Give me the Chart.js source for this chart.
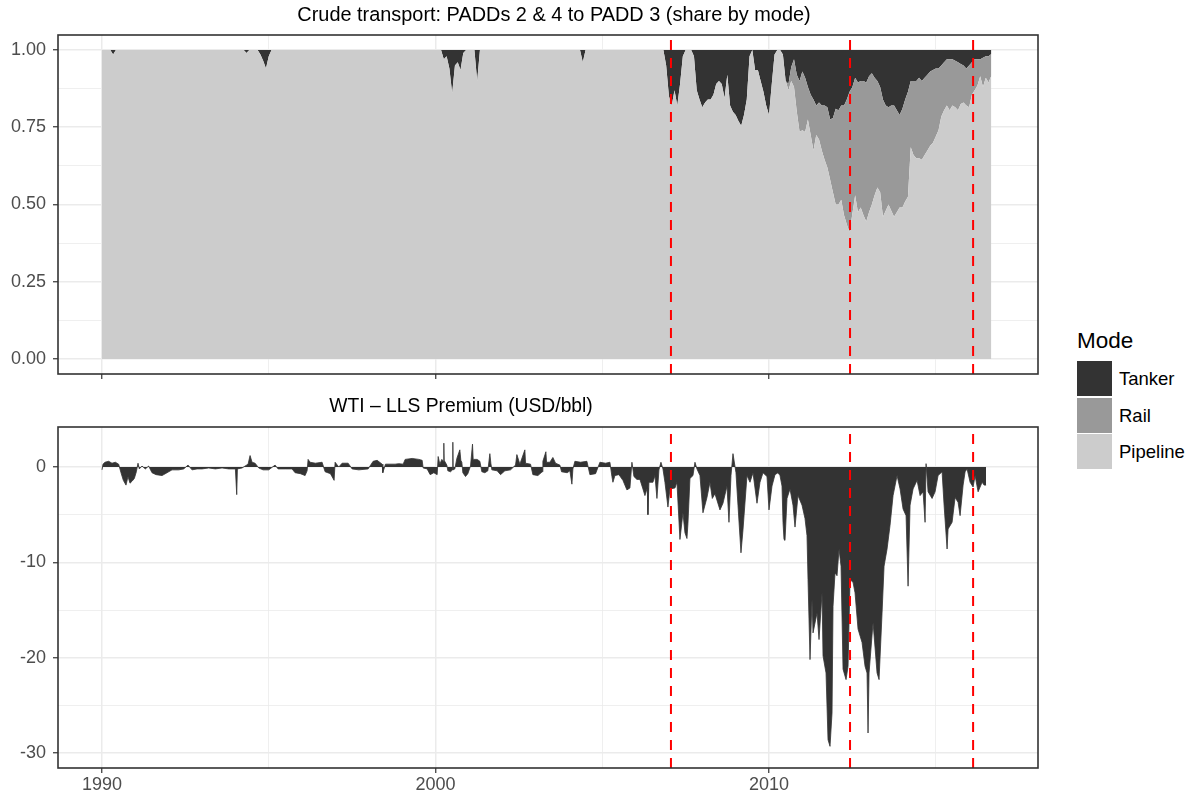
<!DOCTYPE html>
<html>
<head>
<meta charset="utf-8">
<script src="https://cdn.jsdelivr.net/npm/chart.js@4.4.1/dist/chart.umd.min.js"></script>
<style>
  html, body { margin: 0; padding: 0; background: #fff; }
  body { width: 1193px; height: 797px; position: relative; overflow: hidden; font-family: "Liberation Sans", Arial, sans-serif; }
  canvas { position: absolute; left: 0; }
  #shareChart { top: 0; }
  #premiumChart { top: 380px; }
  .legend-title { position: absolute; left: 1077px; top: 328px; font-size: 22.5px; line-height: 26px; color: #000; }
  .legend-key { position: absolute; left: 1077px; width: 35px; height: 35px; }
  .legend-label { position: absolute; left: 1119px; font-size: 18.5px; line-height: 22px; color: #000; }
</style>
</head>
<body>
<canvas id="shareChart" width="1050" height="380"></canvas>
<canvas id="premiumChart" width="1050" height="417"></canvas>
<div id="legend"></div>
<script>
const FONT = '"Liberation Sans", Arial, sans-serif'
const INK = '#333333'
const GRID = '#ebebeb'
const AXIS_TEXT = '#4d4d4d'

const modes = ['Tanker', 'Rail', 'Pipeline']
const modeColors = ['#333333', '#999999', '#cccccc']

const yearTicks = [1990, 2000, 2010]
const yearMinor = [1995, 2005, 2015]
const shareTicks = [0, 0.25, 0.5, 0.75, 1]
const shareMinor = [0.125, 0.375, 0.625, 0.875]
const premiumTicks = [-30, -20, -10, 0]
const premiumMinor = [-25, -15, -5]

// dates marked with the red dashed lines
const eventDates = [2007.06, 2012.43, 2016.12]

// monthly shares from Jan 1990, one row per year
const FIRST_YEAR = 1990
const tankerShare = [
  0, 0, 0, 0, 0.015, 0, 0, 0, 0, 0, 0, 0,
  0, 0, 0, 0, 0, 0, 0, 0, 0, 0, 0, 0,
  0, 0, 0, 0, 0, 0, 0, 0, 0, 0, 0, 0,
  0, 0, 0, 0, 0, 0, 0, 0, 0, 0, 0, 0,
  0, 0, 0, 0, 0.01, 0, 0, 0, 0, 0.015, 0.035, 0.06,
  0.02, 0, 0, 0, 0, 0, 0, 0, 0, 0, 0, 0,
  0, 0, 0, 0, 0, 0, 0, 0, 0, 0, 0, 0,
  0, 0, 0, 0, 0, 0, 0, 0, 0, 0, 0, 0,
  0, 0, 0, 0, 0, 0, 0, 0, 0, 0, 0, 0,
  0, 0, 0, 0, 0, 0, 0, 0, 0, 0, 0, 0,
  0, 0, 0, 0.03, 0.02, 0.06, 0.14, 0.05, 0.04, 0.065, 0.01, 0,
  0, 0, 0, 0.10, 0, 0, 0, 0, 0, 0, 0, 0,
  0, 0, 0, 0, 0, 0, 0, 0, 0, 0, 0, 0,
  0, 0, 0, 0, 0, 0, 0, 0, 0, 0, 0, 0,
  0, 0, 0, 0, 0, 0.04, 0, 0, 0, 0, 0, 0,
  0, 0, 0, 0, 0, 0, 0, 0, 0, 0, 0, 0,
  0, 0, 0, 0, 0, 0, 0, 0, 0, 0, 0, 0.05,
  0.15, 0.18, 0.13, 0.18, 0.11, 0.02, 0, 0, 0, 0.02, 0.13, 0.16,
  0.185, 0.17, 0.16, 0.16, 0.145, 0.11, 0.10, 0.11, 0.155, 0.08, 0.18, 0.20,
  0.21, 0.23, 0.245, 0.21, 0.16, 0.02, 0, 0.065, 0.065, 0.10, 0.135, 0.18,
  0.21, 0.11, 0.015, 0, 0, 0.015, 0.10, 0.11, 0.055, 0.03, 0.08, 0.10,
  0.07, 0.09, 0.12, 0.145, 0.16, 0.18, 0.17, 0.18, 0.18, 0.185, 0.225, 0.22,
  0.19, 0.195, 0.18, 0.18, 0.16, 0.135, 0.12, 0.09, 0.105, 0.10, 0.10, 0.105,
  0.085, 0.075, 0.09, 0.10, 0.12, 0.16, 0.18, 0.185, 0.18, 0.18, 0.195, 0.21,
  0.19, 0.16, 0.135, 0.10, 0.10, 0.10, 0.09, 0.10, 0.09, 0.08, 0.07, 0.065,
  0.06, 0.06, 0.05, 0.04, 0.03, 0.03, 0.03, 0.035, 0.04, 0.045, 0.05, 0.06,
  0.05, 0.04, 0.03, 0.03, 0.03, 0.025, 0.02, 0.02, 0.013,
]
const railShare = [
  0, 0, 0, 0, 0, 0, 0, 0, 0, 0, 0, 0,
  0, 0, 0, 0, 0, 0, 0, 0, 0, 0, 0, 0,
  0, 0, 0, 0, 0, 0, 0, 0, 0, 0, 0, 0,
  0, 0, 0, 0, 0, 0, 0, 0, 0, 0, 0, 0,
  0, 0, 0, 0, 0, 0, 0, 0, 0, 0, 0, 0,
  0, 0, 0, 0, 0, 0, 0, 0, 0, 0, 0, 0,
  0, 0, 0, 0, 0, 0, 0, 0, 0, 0, 0, 0,
  0, 0, 0, 0, 0, 0, 0, 0, 0, 0, 0, 0,
  0, 0, 0, 0, 0, 0, 0, 0, 0, 0, 0, 0,
  0, 0, 0, 0, 0, 0, 0, 0, 0, 0, 0, 0,
  0, 0, 0, 0, 0, 0, 0, 0, 0, 0, 0, 0,
  0, 0, 0, 0, 0, 0, 0, 0, 0, 0, 0, 0,
  0, 0, 0, 0, 0, 0, 0, 0, 0, 0, 0, 0,
  0, 0, 0, 0, 0, 0, 0, 0, 0, 0, 0, 0,
  0, 0, 0, 0, 0, 0, 0, 0, 0, 0, 0, 0,
  0, 0, 0, 0, 0, 0, 0, 0, 0, 0, 0, 0,
  0, 0, 0, 0, 0, 0, 0, 0, 0, 0, 0, 0,
  0, 0, 0, 0, 0, 0, 0, 0, 0, 0, 0, 0,
  0, 0, 0, 0, 0, 0, 0, 0, 0, 0, 0, 0,
  0, 0, 0, 0, 0, 0, 0, 0, 0, 0, 0, 0,
  0, 0, 0, 0, 0, 0, 0, 0.02, 0.045, 0.09, 0.12, 0.165,
  0.19, 0.175, 0.105, 0.13, 0.165, 0.095, 0.12, 0.145, 0.175, 0.195, 0.195, 0.24,
  0.31, 0.305, 0.305, 0.355, 0.405, 0.455, 0.41, 0.38, 0.42, 0.41, 0.435, 0.45,
  0.44, 0.425, 0.38, 0.345, 0.34, 0.38, 0.34, 0.315, 0.34, 0.36, 0.33, 0.30,
  0.32, 0.33, 0.34, 0.215, 0.24, 0.25, 0.26, 0.255, 0.25, 0.245, 0.24, 0.235,
  0.22, 0.20, 0.165, 0.155, 0.15, 0.165, 0.15, 0.15, 0.155, 0.13, 0.12, 0.12,
  0.135, 0.105, 0.10, 0.085, 0.055, 0.095, 0.07, 0.085, 0.07,
]

// WTI minus LLS, USD/bbl, [decimal year, value]
const premium1990s = [
  [1990.00, -0.3], [1990.03, 0.3], [1990.09, 0.5], [1990.20, 0.6], [1990.30, 0.4], [1990.40, 0.5],
  [1990.50, 0.3], [1990.57, -0.6], [1990.64, -1.4], [1990.72, -1.9], [1990.78, -1.0], [1990.84, -1.7],
  [1990.90, -1.5], [1990.97, -1.2], [1991.03, -0.5], [1991.08, 0.4], [1991.12, -0.2], [1991.20, 0.1],
  [1991.30, -0.2], [1991.40, 0.1], [1991.50, -0.6], [1991.62, -0.8], [1991.80, -0.9], [1991.95, -0.6],
  [1992.10, -0.3], [1992.30, -0.3], [1992.45, -0.2], [1992.58, 0.2], [1992.70, -0.3], [1992.85, -0.2],
  [1993.00, -0.2], [1993.20, -0.1], [1993.40, -0.2], [1993.60, -0.1], [1993.80, -0.2], [1994.00, -0.2],
  [1994.04, -2.9], [1994.06, -0.2], [1994.20, -0.1], [1994.38, 0.3], [1994.44, 1.2], [1994.50, 0.5],
  [1994.59, 0.4], [1994.70, -0.1], [1994.83, -0.3], [1995.00, -0.3], [1995.19, 0.2], [1995.28, -0.2],
  [1995.50, -0.2], [1995.70, -0.2], [1995.79, -0.6], [1995.95, -0.7], [1996.09, -0.9], [1996.15, -0.4],
  [1996.18, 0.8], [1996.24, 0.5], [1996.40, 0.4], [1996.60, 0.5], [1996.69, -0.5], [1996.85, -0.7],
  [1996.96, -1.4], [1996.99, 0.5], [1997.10, 0.0], [1997.20, 0.4], [1997.38, 0.4], [1997.50, -0.2],
  [1997.70, -0.3], [1997.98, -0.2], [1998.13, 0.6], [1998.25, 0.7], [1998.40, 0.3], [1998.42, -0.6],
  [1998.50, 0.3], [1998.79, 0.3], [1998.90, 0.35],
]
const premium2000s = [
  [1999.03, 0.3], [1999.09, 0.8], [1999.30, 0.9], [1999.50, 0.8], [1999.60, 0.7], [1999.63, -0.1],
  [1999.75, -0.2], [1999.84, -0.8], [1999.95, -0.6], [2000.05, -0.8], [2000.08, 1.1], [2000.13, 0.3],
  [2000.19, 0.8], [2000.24, 0.6], [2000.25, 2.5], [2000.26, 0.7], [2000.34, 0.2], [2000.37, -0.4],
  [2000.45, -0.5], [2000.51, -0.3], [2000.52, 2.6], [2000.53, -0.3], [2000.58, -0.2], [2000.64, 0.9],
  [2000.73, 1.8], [2000.76, 0.7], [2000.79, 0.5], [2000.82, -0.6], [2000.90, -1.0], [2000.97, -0.7],
  [2001.05, 0.1], [2001.11, 2.4], [2001.13, 0.8], [2001.25, 0.8], [2001.33, 0.6], [2001.39, -0.5],
  [2001.48, -0.6], [2001.57, -0.4], [2001.63, 1.4], [2001.66, 0.4], [2001.69, -0.3], [2001.85, -0.4],
  [2001.95, -0.8], [2002.08, -0.4], [2002.25, -0.3], [2002.40, 0.2], [2002.44, 1.3], [2002.53, 0.3],
  [2002.68, 1.8], [2002.70, 0.4], [2002.85, 0.3], [2002.92, -0.8], [2003.07, -0.9], [2003.20, -0.5],
  [2003.22, 0.6], [2003.31, 1.6], [2003.33, 0.5], [2003.43, 0.5], [2003.52, 1.0], [2003.60, 0.4],
  [2003.73, 0.2], [2003.78, -0.5], [2003.95, -0.6], [2004.03, -0.4], [2004.09, -1.8], [2004.12, -0.2],
  [2004.18, 0.6], [2004.35, 0.5], [2004.54, 0.6], [2004.63, -0.8], [2004.80, -0.7], [2004.93, 0.5],
  [2005.10, 0.4], [2005.23, 0.5], [2005.29, -1.0], [2005.32, -1.6], [2005.38, -0.9], [2005.50, -0.8],
  [2005.62, -1.4], [2005.74, -2.4], [2005.83, -2.2], [2005.89, 0.5], [2005.95, -1.0], [2006.04, -1.3],
  [2006.13, -1.3], [2006.22, -2.3], [2006.28, -3.0], [2006.35, -2.2], [2006.37, -5.0], [2006.40, -1.6],
  [2006.52, -1.6], [2006.58, -0.9], [2006.64, -3.3], [2006.70, -0.3], [2006.76, 0.5], [2006.82, -0.2],
  [2006.88, -1.6], [2006.97, -4.2], [2007.03, -2.3], [2007.18, -2.2], [2007.24, -1.6], [2007.33, -7.6],
  [2007.42, -4.8], [2007.48, -6.9], [2007.54, -7.5], [2007.57, -5.9], [2007.63, -1.2], [2007.72, -0.9],
  [2007.78, 0.5], [2007.84, -0.2], [2007.93, -0.9], [2008.02, -4.8], [2008.14, -3.2], [2008.23, -1.6],
  [2008.30, -3.3], [2008.38, -2.8], [2008.53, -4.5], [2008.62, -3.8], [2008.74, -2.0], [2008.80, -5.8],
  [2008.86, -0.9], [2008.92, 1.4], [2009.01, -0.6], [2009.07, -4.0], [2009.16, -9.0], [2009.22, -6.6],
  [2009.34, -0.9], [2009.43, -1.6], [2009.52, -0.6], [2009.64, -3.8], [2009.73, -1.6], [2009.82, -0.6],
  [2009.94, -1.0],
]
const premium2010s = [
  [2010.00, -4.5], [2010.09, -2.0], [2010.18, -0.8], [2010.27, -0.6], [2010.33, -0.9], [2010.39, -2.0],
  [2010.42, -5.8], [2010.45, -7.6], [2010.48, -7.7], [2010.54, -3.3], [2010.63, -2.3], [2010.72, -4.0],
  [2010.78, -6.3], [2010.87, -3.0], [2010.99, -4.0], [2011.08, -5.4], [2011.14, -7.2], [2011.17, -11.8],
  [2011.23, -20.2], [2011.29, -13.9], [2011.32, -17.4], [2011.44, -15.3], [2011.50, -18.1], [2011.59, -13.2],
  [2011.62, -19.8], [2011.71, -21.6], [2011.77, -28.6], [2011.83, -29.3], [2011.89, -25.8], [2011.92, -14.6],
  [2011.98, -11.1], [2012.04, -11.4], [2012.10, -8.6], [2012.16, -10.4], [2012.22, -21.2], [2012.31, -22.3],
  [2012.37, -20.9], [2012.43, -11.8], [2012.52, -12.1], [2012.58, -13.2], [2012.67, -17.0], [2012.79, -18.4],
  [2012.88, -20.9], [2012.94, -21.6], [2012.97, -27.9], [2013.00, -21.6], [2013.12, -16.3], [2013.24, -21.6],
  [2013.30, -22.3], [2013.39, -15.3], [2013.45, -10.4], [2013.54, -8.6], [2013.63, -6.1], [2013.72, -3.0],
  [2013.84, -0.9], [2013.93, -2.3], [2014.02, -4.4], [2014.11, -5.1], [2014.17, -12.5], [2014.23, -4.0],
  [2014.32, -2.3], [2014.44, -1.4], [2014.53, -3.0], [2014.62, -2.6], [2014.68, -5.8], [2014.71, 0.35],
  [2014.77, -2.6], [2014.89, -3.3], [2014.98, -2.6], [2015.07, -0.9], [2015.19, -0.5], [2015.25, -4.0],
  [2015.34, -8.6], [2015.37, -6.5], [2015.49, -5.8], [2015.58, -3.2], [2015.67, -3.7], [2015.73, -5.1],
  [2015.82, -1.9], [2015.88, -0.5], [2015.94, -0.2], [2016.03, -1.6], [2016.12, -2.1], [2016.18, -0.9],
  [2016.27, -2.6], [2016.39, -1.6], [2016.45, -1.9], [2016.51, -1.9],
]

const months = tankerShare.map((_, i) => FIRST_YEAR + i / 12)
const pipelineShare = tankerShare.map((t, i) => 1 - t - railShare[i])
const premium = [...premium1990s, ...premium2000s, ...premium2010s].map(([x, y]) => ({ x, y }))

const X_MIN = 1988.681
const X_MAX = 2018.066

function fixedTicks(major, minor) {
  return (scale) => {
    scale.ticks = [...major, ...minor].sort((a, b) => a - b).map(v => ({ value: v }))
  }
}

function gridFor(major) {
  const isMajor = (c) => c.tick && major.includes(c.tick.value)
  return {
    color: GRID,
    lineWidth: (c) => isMajor(c) ? 1.5 : 0.8,
    tickLength: 5,
    tickWidth: 1.2,
    tickColor: (c) => isMajor(c) ? INK : 'rgba(0,0,0,0)',
  }
}

function tickFont() {
  return { family: FONT, size: 18 }
}

const panelDecor = {
  id: 'panelDecor',
  afterDatasetsDraw(chart) {
    const { ctx, chartArea: a, scales: { x } } = chart
    ctx.save()
    ctx.strokeStyle = '#ff0000'
    ctx.lineWidth = 2
    ctx.setLineDash([10, 8])
    eventDates.forEach(d => {
      const px = x.getPixelForValue(d)
      ctx.beginPath()
      ctx.moveTo(px, a.bottom)
      ctx.lineTo(px, a.top)
      ctx.stroke()
    })
    ctx.restore()
  },
  afterDraw(chart, args, opts) {
    const { ctx, chartArea: a } = chart
    ctx.save()
    ctx.strokeStyle = INK
    ctx.lineWidth = 1.6
    ctx.strokeRect(a.left, a.top, a.right - a.left, a.bottom - a.top)
    ctx.fillStyle = '#000'
    ctx.font = `${opts.titleSize}px ${FONT}`
    ctx.textAlign = 'center'
    ctx.textBaseline = 'middle'
    ctx.fillText(opts.title, opts.titleX, opts.titleY)
    ctx.restore()
  },
}

function xAxis(showLabels, height) {
  return {
    type: 'linear',
    min: X_MIN,
    max: X_MAX,
    afterBuildTicks: fixedTicks(yearTicks, yearMinor),
    afterFit: (scale) => {
      scale.height = height
      scale.paddingLeft = 0
      scale.paddingRight = 0
    },
    grid: gridFor(yearTicks),
    border: { display: false },
    ticks: {
      display: showLabels,
      autoSkip: false,
      maxRotation: 0,
      padding: 1,
      color: AXIS_TEXT,
      font: tickFont(),
      callback: (v) => yearTicks.includes(v) ? String(v) : '',
    },
  }
}

function yAxis(min, max, major, minor, fmt, stacked) {
  return {
    type: 'linear',
    stacked,
    min,
    max,
    afterBuildTicks: fixedTicks(major, minor),
    afterFit: (scale) => {
      scale.width = 58
      scale.paddingTop = 0
      scale.paddingBottom = 0
    },
    grid: gridFor(major),
    border: { display: false },
    ticks: {
      autoSkip: false,
      padding: 7,
      color: AXIS_TEXT,
      font: tickFont(),
      callback: (v) => major.includes(v) ? fmt(v) : '',
    },
  }
}

const commonOptions = {
  responsive: false,
  animation: false,
  devicePixelRatio: 1,
  events: [],
  elements: { point: { radius: 0 }, line: { tension: 0 } },
}

function areaDataset(label, values, color, fill) {
  return {
    label,
    data: months.map((m, i) => ({ x: m, y: values[i] })),
    backgroundColor: color,
    borderColor: 'rgba(0,0,0,0)',
    borderWidth: 0,
    fill,
  }
}

new Chart(document.getElementById('shareChart'), {
  type: 'line',
  data: {
    datasets: [
      areaDataset('Pipeline', pipelineShare, modeColors[2], 'origin'),
      areaDataset('Rail', railShare, modeColors[1], '-1'),
      areaDataset('Tanker', tankerShare, modeColors[0], '-1'),
    ],
  },
  options: {
    ...commonOptions,
    layout: { padding: { top: 35, right: 12, left: 0, bottom: 0 } },
    scales: {
      x: xAxis(false, 6),
      y: yAxis(-0.0485, 1.0485, shareTicks, shareMinor, (v) => v.toFixed(2), true),
    },
    plugins: {
      legend: { display: false },
      tooltip: { enabled: false },
      panelDecor: { title: 'Crude transport: PADDs 2 & 4 to PADD 3 (share by mode)', titleX: 554, titleY: 16, titleSize: 19.9 },
    },
  },
  plugins: [panelDecor],
})

new Chart(document.getElementById('premiumChart'), {
  type: 'line',
  data: {
    datasets: [{
      label: 'WTI - LLS',
      data: premium,
      backgroundColor: INK,
      borderColor: INK,
      borderWidth: 0.8,
      fill: 'origin',
    }],
  },
  options: {
    ...commonOptions,
    layout: { padding: { top: 47, right: 12, left: 0, bottom: 0 } },
    scales: {
      x: xAxis(true, 29),
      y: yAxis(-31.57, 4.196, premiumTicks, premiumMinor, (v) => String(v), false),
    },
    plugins: {
      legend: { display: false },
      tooltip: { enabled: false },
      panelDecor: { title: 'WTI \u2013 LLS Premium (USD/bbl)', titleX: 461, titleY: 27, titleSize: 19.3 },
    },
  },
  plugins: [panelDecor],
})

// legend shared by both panels
const legend = document.getElementById('legend')
const title = document.createElement('div')
title.className = 'legend-title'
title.textContent = 'Mode'
legend.appendChild(title)
modes.forEach((m, i) => {
  const key = document.createElement('div')
  key.className = 'legend-key'
  key.style.top = (361 + i * 36.5) + 'px'
  key.style.background = modeColors[i]
  legend.appendChild(key)
  const label = document.createElement('div')
  label.className = 'legend-label'
  label.style.top = (368 + i * 36.5) + 'px'
  label.textContent = m
  legend.appendChild(label)
})
</script>
</body>
</html>
